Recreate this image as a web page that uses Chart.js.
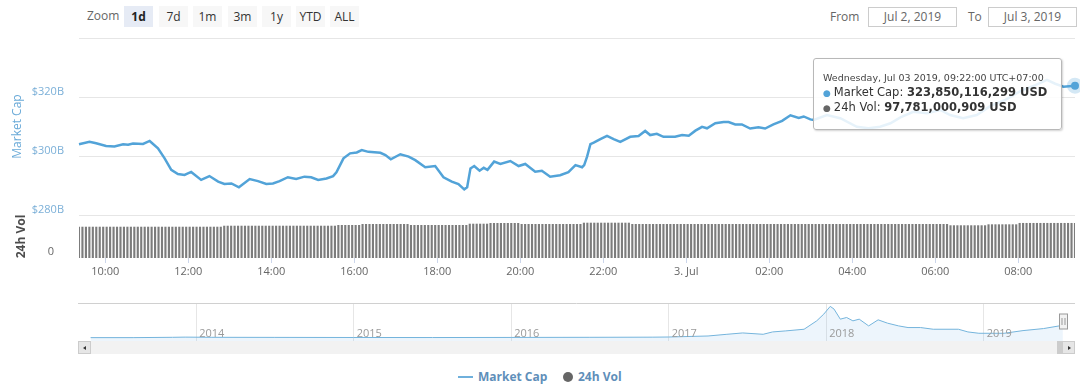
<!DOCTYPE html>
<html>
<head>
<meta charset="utf-8">
<title>Market Cap</title>
<script src="https://cdn.jsdelivr.net/npm/chart.js@4.4.1/dist/chart.umd.min.js"></script>
<style>
  body { margin: 0; width: 1080px; height: 384px; background: #fff; position: relative; overflow: hidden; font-family: 'Open Sans', sans-serif; }
  canvas { position: absolute; left: 0; }
  .lbl { position: absolute; font-size: 12px; color: #666; line-height: 20px; }
  .btn { position: absolute; top: 6px; height: 21px; width: 29px; background: #f7f7f7; color: #333; font-size: 12px; line-height: 21px; text-align: center; }
  .btn.on { background: #e6ebf5; font-weight: bold; color: #222; }
  .inp { position: absolute; top: 7px; width: 89px; height: 20px; box-sizing: border-box; border: 1px solid #ccc; font-size: 12px; color: #666; line-height: 18px; text-align: center; }
  #tip { position: absolute; display: none; width: 249px; box-sizing: border-box; padding: 12px 8px 14px 9px; background: rgba(255,255,255,0.86); border: 1px solid #b8b8b8; border-radius: 3px; box-shadow: 1px 1px 2px rgba(0,0,0,0.18); font-family: 'DejaVu Sans', sans-serif; color: #333; z-index: 5; white-space: nowrap; }
  #tip .tt { font-size: 9.5px; line-height: 14px; color: #444; }
  #tip .row { font-size: 11.5px; line-height: 14px; }
  #tip .dot { font-size: 9px; margin-right: 3px; }
  .sb { position: absolute; top: 341px; height: 13px; box-sizing: border-box; }
  .arrow { position: absolute; top: 4px; width: 0; height: 0; border-top: 2.5px solid transparent; border-bottom: 2.5px solid transparent; }
  .leg { position: absolute; top: 368px; font-size: 12px; font-weight: bold; color: #5f8fba; line-height: 18px; }
</style>
</head>
<body>
<div class="lbl" style="left:87px;top:6px;">Zoom</div>
<div id="buttons"></div>
<div class="lbl" style="left:830px;top:7px;">From</div>
<div class="inp" style="left:868px;">Jul 2, 2019</div>
<div class="lbl" style="left:968px;top:7px;">To</div>
<div class="inp" style="left:988px;">Jul 3, 2019</div>

<canvas id="main" width="1080" height="282" style="top:0"></canvas>
<canvas id="nav" width="1080" height="45" style="top:296px"></canvas>
<div id="tip"></div>

<div class="sb" style="left:78px;width:997px;background:#f2f2f2;"></div>
<div class="sb" style="left:78px;width:13px;background:#e6e6e6;border:1px solid #ccc;"><div class="arrow" style="left:4px;border-right:3px solid #333;"></div></div>
<div class="sb" style="left:1057px;width:6px;background:#cccccc;"></div>
<div class="sb" style="left:1062px;width:13px;background:#e6e6e6;border:1px solid #ccc;"><div class="arrow" style="left:5px;border-left:3px solid #333;"></div></div>

<div style="position:absolute;left:458px;top:376px;width:15px;height:2px;background:#6fb0dc;"></div>
<div class="leg" style="left:478px;">Market Cap</div>
<div style="position:absolute;left:563px;top:372px;width:10px;height:10px;border-radius:50%;background:#666;"></div>
<div class="leg" style="left:578px;">24h Vol</div>

<script>
// range buttons
const zoomButtons = ['1d', '7d', '1m', '3m', '1y', 'YTD', 'ALL']
const buttonLeft = [124, 159, 193, 228, 262, 296, 330]

// market cap, $B (hours since Jul 2 00:00)
const capHours = [
  9.367, 9.62, 9.78, 10.02, 10.22, 10.43, 10.55, 10.67, 10.91, 11.07,
  11.27, 11.43, 11.59, 11.75, 11.91, 12.07, 12.31, 12.51, 12.72, 12.87,
  13.04, 13.22, 13.48, 13.68, 13.88, 14.04, 14.20, 14.40, 14.60, 14.80,
  14.96, 15.13, 15.33, 15.49, 15.57, 15.74, 15.90, 16.06, 16.18, 16.34,
  16.63, 16.75, 16.88, 17.11, 17.31, 17.47, 17.71, 17.95, 18.15, 18.35,
  18.51, 18.65, 18.72, 18.80, 18.89, 19.02, 19.12, 19.21, 19.37, 19.52,
  19.76, 19.96, 20.12, 20.36, 20.52, 20.72, 20.96, 21.16, 21.33, 21.49,
  21.54, 21.61, 21.69, 21.77, 21.93, 22.09, 22.25, 22.41, 22.65, 22.85,
  23.01, 23.13, 23.29, 23.45, 23.73, 23.90, 24.06, 24.22, 24.38, 24.50,
  24.70, 24.90, 25.02, 25.18, 25.34, 25.54, 25.74, 25.90, 26.10, 26.31,
  26.51, 26.71, 26.83, 26.99, 27.07, 27.39, 27.71, 28.11, 28.39, 28.67,
  28.92, 29.16, 29.47, 29.80, 30.12, 30.36, 30.67, 31.00, 31.33, 31.69,
  32.05, 32.41, 32.69, 32.89, 33.09, 33.367
]
const capValues = [
  304.0, 304.8, 304.3, 303.4, 303.2, 304.0, 303.8, 304.2, 304.1, 305.1,
  302.6, 299.2, 295.3, 293.9, 293.6, 294.6, 291.9, 293.2, 291.3, 290.5,
  290.7, 289.4, 292.2, 291.5, 290.5, 290.7, 291.5, 292.8, 292.2, 293.0,
  292.8, 291.9, 292.4, 293.2, 294.5, 299.2, 300.9, 301.2, 302.0, 301.4,
  301.1, 300.3, 298.9, 300.6, 299.8, 298.6, 296.2, 296.6, 292.8, 291.3,
  290.5, 288.7, 289.4, 295.8, 296.6, 295.0, 296.0, 295.3, 298.1, 297.3,
  298.3, 296.6, 297.3, 294.7, 295.0, 293.0, 293.5, 294.5, 296.9, 296.2,
  296.9, 299.8, 304.0, 304.5, 305.7, 306.8, 305.7, 304.8, 306.5, 306.8,
  308.5, 307.1, 307.5, 306.5, 306.5, 307.1, 306.9, 308.6, 309.9, 309.4,
  311.1, 311.5, 311.5, 310.7, 310.7, 309.3, 309.7, 309.3, 310.7, 311.9,
  313.8, 312.9, 313.4, 312.4, 312.2, 313.9, 312.8, 309.9, 309.4, 309.9,
  311.1, 313.1, 315.0, 314.5, 315.6, 313.9, 312.8, 313.9, 317.0, 319.0,
  322.0, 324.0, 325.8, 324.5, 323.5, 323.850116299
]

// 24h volume, $B, one bar every 5 minutes from 09:22
const volStart = 9 + 22 / 60
const volStepMin = 5
const volValues = [
  87.3, 87.3, 87.3, 87.3, 87.3, 87.3, 87.3, 87.3, 87.3, 87.3, 87.3, 87.3,
  87.3, 87.3, 87.3, 87.3, 87.3, 87.3, 87.3, 87.3, 87.3, 87.3, 87.3, 87.3,
  87.3, 87.3, 87.3, 87.3, 87.3, 87.3, 87.3, 87.3, 87.3, 87.3, 87.3, 87.3,
  87.3, 87.3, 87.3, 87.3, 87.3, 87.3, 90.1, 90.1, 90.1, 90.1, 90.1, 90.1,
  90.1, 90.1, 90.1, 90.1, 90.1, 90.1, 90.1, 90.1, 90.1, 90.1, 90.1, 90.1,
  90.1, 90.1, 90.1, 90.1, 90.1, 90.1, 90.1, 90.1, 90.1, 90.1, 90.1, 90.1,
  90.1, 90.1, 90.1, 92.1, 92.1, 92.1, 92.1, 92.1, 92.1, 92.1, 94.9, 94.9,
  94.9, 94.9, 94.9, 94.9, 94.9, 94.9, 94.9, 94.9, 94.9, 94.9, 94.9, 94.9,
  92.1, 92.1, 92.1, 92.1, 92.1, 92.1, 92.1, 92.1, 92.1, 92.1, 92.1, 92.1,
  92.1, 92.1, 92.1, 92.1, 92.1, 95.7, 95.7, 95.7, 95.7, 95.7, 95.7, 97.7,
  97.7, 97.7, 97.7, 97.7, 97.7, 97.7, 97.7, 97.7, 94.9, 94.9, 94.9, 94.9,
  94.9, 94.9, 94.9, 94.9, 94.9, 94.9, 94.9, 94.9, 94.9, 94.9, 94.9, 94.9,
  94.9, 94.9, 98.5, 98.5, 98.5, 98.5, 98.5, 98.5, 98.5, 98.5, 98.5, 98.5,
  98.5, 98.5, 98.5, 98.5, 94.9, 94.9, 94.9, 94.9, 94.9, 94.9, 94.9, 94.9,
  94.9, 94.9, 94.9, 94.9, 94.9, 94.9, 94.9, 94.9, 94.9, 94.9, 94.9, 94.9,
  94.9, 94.9, 94.9, 94.9, 94.9, 94.9, 94.9, 94.9, 94.9, 94.9, 94.9, 94.9,
  94.9, 94.9, 94.9, 94.9, 94.9, 94.9, 94.9, 94.9, 94.9, 94.9, 94.9, 94.9,
  94.9, 94.9, 94.9, 94.9, 94.9, 94.9, 94.9, 94.9, 94.9, 94.9, 94.9, 94.9,
  94.9, 94.9, 94.9, 94.9, 94.9, 94.9, 94.9, 94.9, 94.9, 94.9, 94.9, 94.9,
  94.9, 94.9, 94.9, 94.9, 94.9, 94.9, 94.9, 94.9, 94.9, 94.9, 94.9, 94.9,
  94.9, 94.9, 94.9, 94.9, 94.9, 94.9, 94.9, 94.9, 94.9, 94.9, 94.9, 94.9,
  91.3, 91.3, 91.3, 91.3, 91.3, 91.3, 91.3, 91.3, 91.3, 91.3, 91.3, 94.0,
  94.0, 94.0, 94.0, 94.0, 94.0, 94.0, 94.0, 94.0, 97.8, 97.8, 97.8, 97.8,
  97.8, 97.8, 97.8, 97.8, 97.8, 97.8, 97.8, 97.8, 97.8, 97.8, 97.8, 97.8,
  97.781000909
]

// x axis ticks
const hourTicks = [10, 12, 14, 16, 18, 20, 22, 24, 26, 28, 30, 32]
const hourLabels = ['10:00', '12:00', '14:00', '16:00', '18:00', '20:00', '22:00', '3. Jul', '02:00', '04:00', '06:00', '08:00']
const capTicks = [280, 300, 320, 340]
const tipTitle = 'Wednesday, Jul 03 2019, 09:22:00 UTC+07:00'

// navigator: whole history, $B
const navYears = [
  2013.33, 2013.6, 2013.85, 2013.93, 2014.1, 2014.5, 2015.0, 2015.5, 2016.0, 2016.5,
  2016.9, 2017.0, 2017.25, 2017.37, 2017.47, 2017.6, 2017.66, 2017.74, 2017.86, 2017.94,
  2017.985, 2018.026, 2018.05, 2018.09, 2018.13, 2018.17, 2018.21, 2018.27, 2018.33, 2018.39,
  2018.46, 2018.52, 2018.6, 2018.68, 2018.84, 2018.9, 2018.97, 2019.13, 2019.25, 2019.38,
  2019.48, 2019.503
]
const navCaps = [
  1.5, 1.3, 10, 15, 10, 8, 5, 4, 7, 10,
  14, 18, 45, 90, 126, 90, 153, 179, 224, 447,
  626, 831, 760, 492, 536, 447, 492, 313, 474, 385,
  313, 269, 269, 224, 224, 153, 117, 117, 188, 242,
  313, 324
]
const navYearTicks = [2014, 2015, 2016, 2017, 2018, 2019]

const capColor = '#52a3d8'
const volColor = '#7c7c7c'

Chart.defaults.font.family = "'Open Sans', sans-serif"

// header buttons
const btnBox = document.getElementById('buttons')
zoomButtons.forEach((b, i) => {
  let d = document.createElement('div')
  d.className = 'btn' + (i === 0 ? ' on' : '')
  d.style.left = buttonLeft[i] + 'px'
  d.textContent = b
  btnBox.appendChild(d)
})

const usd = v => Math.round(v * 1e9).toLocaleString('en-US') + ' USD'

// html tooltip, placed left of the hovered point
const drawTooltip = ({chart, tooltip}) => {
  let el = document.getElementById('tip')
  if (!tooltip.dataPoints || !tooltip.dataPoints.length) return
  let cap = tooltip.dataPoints.find(p => p.datasetIndex === 0),
      vol = tooltip.dataPoints.find(p => p.datasetIndex === 1)
  el.innerHTML =
    `<div class="tt">${tipTitle}</div>` +
    `<div class="row"><span class="dot" style="color:${capColor}">●</span>Market Cap: <b>${usd(cap.raw.y)}</b></div>` +
    `<div class="row"><span class="dot" style="color:#666">●</span>24h Vol: <b>${usd(vol.raw.y)}</b></div>`
  el.style.display = 'block'
  el.style.left = (cap.element.x - 13 - el.offsetWidth) + 'px'
  el.style.top = (cap.element.y - 28) + 'px'
}

const mainChart = new Chart(document.getElementById('main'), {
  type: 'line',
  data: {
    datasets: [{
      label: 'Market Cap',
      type: 'line',
      yAxisID: 'y',
      data: capHours.map((h, i) => ({x: h, y: capValues[i]})),
      borderColor: capColor,
      borderWidth: 2.5,
      pointRadius: 0,
      pointHoverRadius: 4,
      pointHoverBackgroundColor: capColor,
      pointHoverBorderColor: 'rgba(82,163,216,0.25)',
      pointHoverBorderWidth: 8,
      tension: 0,
      clip: 12,
      order: 0
    }, {
      label: '24h Vol',
      type: 'bar',
      yAxisID: 'yVol',
      data: volValues.map((v, i) => ({x: volStart + i * volStepMin / 60, y: v})),
      backgroundColor: volColor,
      hoverBackgroundColor: volColor,
      barPercentage: 1,
      categoryPercentage: 0.62,
      order: 1
    }]
  },
  options: {
    responsive: false,
    animation: false,
    events: [],
    layout: {padding: {top: 38, right: 5, left: 0, bottom: 0}},
    plugins: {
      legend: {display: false},
      tooltip: {enabled: false, external: drawTooltip}
    },
    scales: {
      x: {
        type: 'linear',
        min: capHours[0],
        max: capHours[capHours.length - 1],
        offset: false,
        afterBuildTicks: s => { s.ticks = hourTicks.map(v => ({value: v})) },
        afterFit: s => { s.height = 24 },
        grid: {drawOnChartArea: false, drawTicks: true, tickLength: 5, color: '#ccd6eb', offset: false},
        border: {display: false},
        ticks: {
          padding: 2, color: '#666', font: {size: 11}, maxRotation: 0, autoSkip: false,
          callback: v => hourLabels[hourTicks.indexOf(v)]
        }
      },
      yVol: {
        type: 'linear',
        position: 'left',
        stack: 'panes',
        stackWeight: 43,
        min: 0,
        max: 120,
        afterBuildTicks: s => { s.ticks = [{value: 0}] },
        afterFit: s => { s.width = 79 },
        grid: {display: false},
        border: {display: false},
        ticks: {padding: 17, labelOffset: -6, color: '#666', font: {size: 11}},
        title: {display: true, text: '24h Vol', color: '#4d4d4d', font: {size: 12, weight: 'bold'}, padding: {top: 14, bottom: 0}}
      },
      y: {
        type: 'linear',
        position: 'left',
        stack: 'panes',
        stackWeight: 177,
        min: 280,
        max: 340,
        afterBuildTicks: s => { s.ticks = capTicks.map(v => ({value: v})) },
        afterFit: s => { s.width = 79 },
        grid: {color: '#e6e6e6', drawTicks: false},
        border: {display: false},
        ticks: {
          padding: 15, labelOffset: -5, color: '#7cb0d8', font: {size: 11},
          callback: v => v === 340 ? '' : '$' + v + 'B'
        },
        title: {display: true, text: 'Market Cap', color: '#6aaad8', font: {size: 12}, padding: {top: 10, bottom: 0}}
      }
    }
  }
})

// show the last point as hovered
const last = [
  {datasetIndex: 0, index: capValues.length - 1},
  {datasetIndex: 1, index: volValues.length - 1}
]
mainChart.setActiveElements(last)
mainChart.tooltip.setActiveElements(last, {x: 1075, y: 85})
mainChart.update()

// navigator extras: outline, year labels, handle
const navExtras = {
  id: 'navExtras',
  afterDraw(chart) {
    const {ctx, chartArea: a, scales: {x}} = chart
    ctx.save()
    ctx.strokeStyle = '#d0d0d0'
    ctx.lineWidth = 1
    ctx.beginPath()
    ctx.moveTo(a.left, a.top + 0.5)
    ctx.lineTo(a.right, a.top + 0.5)
    ctx.stroke()
    ctx.fillStyle = '#9a9a9a'
    ctx.font = "11px 'Open Sans'"
    navYearTicks.forEach(t => ctx.fillText(String(t), x.getPixelForValue(t) + 3, a.bottom - 4))
    let hx = Math.round(x.getPixelForValue(navYears[navYears.length - 1])) + 0.5,
        hy = Math.round((a.top + a.bottom) / 2)
    ctx.fillStyle = '#f2f2f2'
    ctx.strokeStyle = '#999'
    ctx.fillRect(hx - 4, hy - 8, 8, 15)
    ctx.strokeRect(hx - 4, hy - 8, 8, 15)
    ctx.beginPath()
    ctx.moveTo(hx - 1.5, hy - 4); ctx.lineTo(hx - 1.5, hy + 3)
    ctx.moveTo(hx + 1.5, hy - 4); ctx.lineTo(hx + 1.5, hy + 3)
    ctx.stroke()
    ctx.restore()
  }
}

new Chart(document.getElementById('nav'), {
  type: 'line',
  data: {
    datasets: [{
      data: navYears.map((t, i) => ({x: t, y: navCaps[i]})),
      borderColor: '#74b4dc',
      borderWidth: 1,
      backgroundColor: 'rgba(124,181,236,0.14)',
      fill: 'start',
      pointRadius: 0,
      tension: 0
    }]
  },
  options: {
    responsive: false,
    animation: false,
    events: [],
    layout: {padding: {top: 7, left: 78, right: 5, bottom: 0}},
    plugins: {legend: {display: false}, tooltip: {enabled: false}},
    scales: {
      x: {
        type: 'linear',
        min: 2013.25,
        max: 2019.58,
        afterBuildTicks: s => { s.ticks = navYearTicks.map(v => ({value: v})) },
        ticks: {display: false},
        grid: {color: '#e6e6e6', drawTicks: false},
        border: {display: false}
      },
      y: {display: false, min: -88, max: 921}
    }
  },
  plugins: [navExtras]
})
</script>
</body>
</html>
